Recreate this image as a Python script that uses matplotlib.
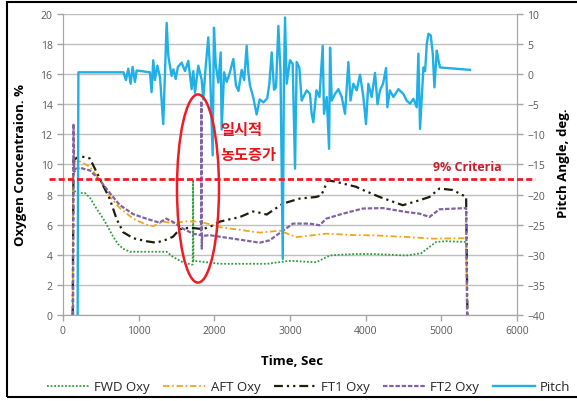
import matplotlib
matplotlib.use('Agg')
import matplotlib.pyplot as plt
from matplotlib.patches import Ellipse, Rectangle

plt.rcParams['font.family'] = ['Open Sans', 'Noto Sans CJK KR', 'DejaVu Sans']

## data (time in sec, oxygen in %, pitch in deg.)
fwd_t = [130, 135, 190, 290, 356, 440, 532, 600, 664, 730, 796, 884, 1000, 1200, 1370, 1456, 1588,
         1698, 1715, 1720, 1725, 1900, 2072, 2468, 2700, 2996, 3348, 3524, 3656, 3877, 4096, 4536,
         4734, 4932, 5064, 5328]
fwd_v = [0, 8.3, 8.1, 8.1, 7.8, 7.1, 6.4, 5.8, 5.2, 4.7, 4.4, 4.2, 4.2, 4.2, 4.2, 3.85, 3.5,
         3.35, 3.35, 9.0, 3.6, 3.5, 3.4, 3.4, 3.4, 3.6, 3.5, 3.95, 4.0, 4.05, 4.05, 3.95,
         4.1, 4.85, 4.9, 4.85]

aft_t = [128, 135, 160, 224, 356, 488, 620, 752, 928, 1100, 1192, 1324, 1456, 1632, 1808, 2072,
         2600, 2864, 3084, 3480, 3877, 4096, 4536, 4888, 5328, 5345]
aft_v = [0, 9.9, 10.2, 10.2, 9.85, 8.96, 7.85, 7.1, 6.4, 6.0, 5.9, 6.2, 6.1, 6.22, 6.2, 5.84,
         5.47, 5.6, 5.17, 5.4, 5.3, 5.29, 5.18, 5.07, 5.1, 0]

ft1_t = [130, 140, 224, 356, 444, 532, 620, 708, 796, 928, 1100, 1232, 1364, 1456, 1544, 1676,
         1852, 1984, 2072, 2244, 2336, 2508, 2556, 2693, 2710, 2908, 3128, 3348, 3414, 3502, 3612,
         3877, 3920, 4184, 4492, 4712, 4844, 4976, 5152, 5328, 5345]
ft1_v = [0, 10.3, 10.55, 10.4, 9.5, 8.6, 7.7, 6.4, 5.5, 5.1, 4.9, 4.8, 5.0, 5.2, 5.7, 5.8,
         5.7, 5.95, 6.2, 6.4, 6.5, 6.87, 6.85, 6.67, 6.73, 7.4, 7.73, 7.84, 7.95, 8.95, 8.84,
         8.51, 8.4, 7.84, 7.29, 7.62, 7.84, 8.4, 8.3, 7.84, 0]

ft2_t = [135, 140, 150, 158, 224, 356, 488, 620, 752, 928, 1100, 1276, 1364, 1456, 1588, 1720,
         1825, 1830, 1835, 1840, 1940, 2072, 2248, 2600, 2732, 2908, 3040, 3260, 3392, 3480,
         3700, 3877, 3964, 4228, 4536, 4712, 4844, 4976, 5328, 5340]
ft2_v = [0, 12.7, 9.5, 9.7, 9.78, 9.6, 8.96, 8.1, 7.3, 6.7, 6.4, 6.13, 6.4, 6.18, 5.73, 5.4,
         5.3, 14.2, 4.4, 5.25, 5.3, 5.2, 5.07, 4.8, 4.96, 5.6, 6.07, 6.07, 5.96, 6.4,
         6.73, 6.96, 7.07, 7.1, 6.84, 6.73, 6.51, 7.02, 7.1, 0]

pitch_t = [195, 205, 800, 833, 864, 895, 921, 952, 974, 1150,
           1172, 1194, 1216, 1247, 1283, 1326, 1349, 1371, 1393, 1436,
           1460, 1490, 1520, 1569, 1613, 1657, 1701, 1723, 1745, 1789,
           1833, 1855, 1880, 1921, 1943, 1979, 1996, 2020, 2054, 2085,
           2098, 2130, 2164, 2200, 2252, 2287, 2320, 2362, 2395, 2428,
           2450, 2472, 2516, 2538, 2560, 2600, 2650, 2700, 2727, 2759,
           2790, 2816, 2847, 2875, 2905, 2920, 2935, 2957, 3000, 3036,
           3067, 3089, 3124, 3155, 3177, 3221, 3265, 3287, 3309, 3350,
           3390, 3433, 3450, 3486, 3517, 3530, 3552, 3596, 3640, 3684,
           3728, 3772, 3800, 3838, 3882, 3926, 3970, 4005, 4036, 4080,
           4124, 4157, 4190, 4230, 4270, 4287, 4320, 4367, 4433, 4499,
           4543, 4587, 4631, 4675, 4697, 4719, 4740, 4764, 4786, 4808,
           4830, 4861, 4887, 4909, 4940, 4962, 4984, 5380]
pitch_v = [-40, 0.3, 0.3, -1.0, 0.9, -1.6, 1.2, -1.3, 0.6, 0.3,
           -3.0, 2.3, -1.0, 1.4, -0.5, -8.3, 0.3, 8.5, 3.0, -0.3,
           0.8, -0.8, 1.2, 1.9, 0.5, 2.2, -2.5, 0.5, -3.1, 1.4,
           -0.9, -4.2, 0.2, 6.1, 1.0, -13.5, 7.7, 1.5, -1.4, 3.6,
           -9.2, 0.3, -1.3, 0.0, 2.5, -1.9, -2.8, 0.7, -1.0, 4.7,
           0.3, -1.9, -3.9, -5.3, -6.7, -4.2, -4.7, -4.0, -1.7, 3.6,
           -2.6, -2.2, 8.0, 0.5, -30.7, -1.0, 9.4, -1.6, 2.3, 1.7,
           -15.7, 2.0, 1.1, -4.4, -3.8, -2.7, -3.3, -6.6, -8.0, -2.7,
           -3.8, 4.7, -6.6, -3.8, -12.4, 4.4, -4.4, -3.3, -2.5, -3.8,
           -6.6, 2.0, -4.4, -1.6, -2.7, -0.1, -3.8, -8.3, -1.6, -3.8,
           0.2, -5.0, -2.7, -1.6, 1.0, -5.5, -2.7, -3.8, -2.5, -3.3,
           -4.4, -4.9, -4.1, -5.5, 3.4, -9.1, -4.4, 1.1, 0.5, 5.0,
           6.7, 6.4, 3.4, -2.2, 3.9, 2.3, 1.1, 0.7]

criteria = 9
x_ticks = [0, 1000, 2000, 3000, 4000, 5000, 6000]

gray = '#595959'

fig = plt.figure(figsize=(5.77, 4.02), dpi=100)
ax = fig.add_axes([0.109, 0.214, 0.787, 0.749])
ax2 = ax.twinx()

ax.plot(fwd_t, fwd_v, color='#2e9e3a', lw=1.3, ls=(0, (1, 1)), label='FWD Oxy')
ax.plot(aft_t, aft_v, color='#f4a41c', lw=1.3, ls=(0, (3.5, 1.5, 1, 1.5)), label='AFT Oxy')
ax.plot(ft1_t, ft1_v, color='#1e1e0a', lw=1.6, ls=(0, (4, 1.8, 1, 1.8, 1, 1.8)), label='FT1 Oxy')
ax.plot(ft2_t, ft2_v, color='#8064a2', lw=1.6, ls=(0, (2, 0.8)), label='FT2 Oxy')
ax2.plot(pitch_t, pitch_v, color='#1fb0e8', lw=1.7, label='Pitch')

ax.set_xlim(0, 6000)
ax.set_ylim(0, 20)
ax.set_yticks(range(0, 21, 2))
ax.set_xticks(x_ticks)
ax2.set_ylim(-40, 10)
ax2.set_yticks(range(-40, 11, 5))
ax.grid(axis='y', color='#bfbfbf', lw=1)
ax.set_axisbelow(True)

for a in (ax, ax2):
    a.spines['top'].set_visible(False)
    for s in ('left', 'bottom', 'right'):
        a.spines[s].set_color('#a6a6a6')
    a.tick_params(colors='#a6a6a6', labelcolor=gray, labelsize=7.5, length=4, width=1)

# 9% criteria line, drawn slightly past the plot area
ax2.plot([-0.03, 1.04], [(criteria - 0) / 20] * 2, transform=ax.transAxes, clip_on=False,
         color='#ee1c24', lw=2, ls=(0, (2.2, 1.1)), zorder=5)
ax2.text(4890, (criteria + 0.87) / 0.4 - 40, '9% Criteria', color='#c8202c', fontsize=9,
         fontweight='bold', ha='left', va='center')

# ellipse and note around the temporary increase
ell = Ellipse((1785, 8.4), 555, 12.5, transform=ax.transData, fill=False, ec='#ee1c24', lw=1.8,
              zorder=6)
ax2.add_patch(ell)
ax2.text(2075, 12.3 / 0.4 - 40, '일시적', color='#e8141c', fontsize=11, fontweight='bold',
         ha='left', va='center')
ax2.text(2075, 10.6 / 0.4 - 40, '농도증가', color='#e8141c', fontsize=11, fontweight='bold',
         ha='left', va='center')

fig.text(0.035, 0.59, 'Oxygen Concentraion. %', rotation=90, ha='center', va='center',
         fontsize=9.5, fontweight='bold')
fig.text(0.976, 0.595, 'Pitch Angle, deg.', rotation=90, ha='center', va='center',
         fontsize=9.5, fontweight='bold')
fig.text(0.506, 0.1, 'Time, Sec', ha='center', va='center', fontsize=9.5, fontweight='bold')

h1, l1 = ax.get_legend_handles_labels()
h2, l2 = ax2.get_legend_handles_labels()
fig.legend(h1 + h2, l1 + l2, loc='center', bbox_to_anchor=(0.535, 0.035), ncol=5, frameon=False,
           fontsize=9.5, handlelength=3.2, columnspacing=1.0, handletextpad=0.4,
           labelcolor='#262626')

fig.patches.append(Rectangle((0.012, 0.01), 1.0, 0.9825, transform=fig.transFigure, fill=False,
                             ec='black', lw=1.5))

plt.savefig('out.png', dpi=100)
